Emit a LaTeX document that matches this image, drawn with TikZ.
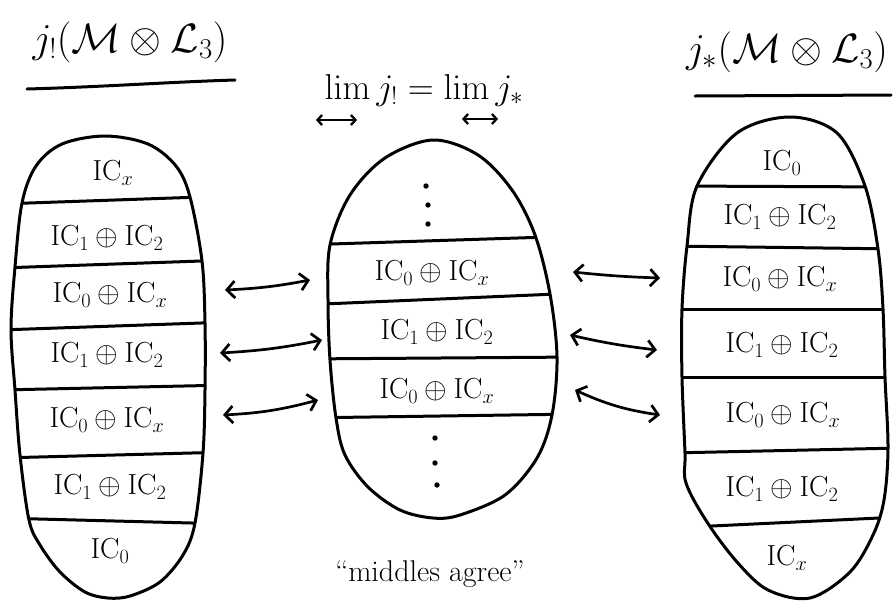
\RequirePackage{fix-cm}
\documentclass[tikz,border=0pt]{standalone}
\usepackage{amsmath}
\usetikzlibrary{arrows.meta}
\newcommand{\myIC}[1]{\mathrm{IC}_{#1}}
\begin{document}
\begin{tikzpicture}[x=1pt,y=-1pt,line width=3pt,line cap=round,line join=round,
  lbl/.style={font=\fontsize{29}{34}\selectfont,inner sep=0pt},
  ttl/.style={font=\fontsize{41}{47}\selectfont,inner sep=0pt},
  arr/.style={{Straight Barb[length=8pt,width=17pt]}-{Straight Barb[length=8pt,width=17pt]},line width=2.7pt},
  sarr/.style={{Straight Barb[length=4.5pt,width=10pt]}-{Straight Barb[length=4.5pt,width=10pt]},line width=2.3pt}]
\useasboundingbox (0,0) rectangle (894,603);

% titles
\node[ttl] (tl) at (130,42) {$j_!(\mathcal{M}\otimes\mathcal{L}_3)$};
\draw (27,89) .. controls (100,87) and (170,82) .. (235,80);
\node[ttl] (tr) at (787,52) {$j_*(\mathcal{M}\otimes\mathcal{L}_3)$};
\draw (695,96) -- (891,95);
\node[font=\fontsize{36}{42}\selectfont,inner sep=0pt,anchor=base] (lim) at (424,99)
  {$\lim j_! = \lim j_*$};
\coordinate (la) at (316,120); \coordinate (lb) at (357,120);
\coordinate (lc) at (462,119); \coordinate (ld) at (498,119);
\draw[sarr] (la) -- (lb);
\draw[sarr] (lc) -- (ld);
\node[font=\fontsize{30}{36}\selectfont,inner sep=0pt] (mid) at (430,574) {``middles agree''};

% left blob
\def\leftblob{plot[smooth cycle,tension=0.55] coordinates {(105,136) (148,144) (176,166) (190,197) (202,261) (205,323) (205,390) (203,453) (195,523) (183,555) (160,582) (130,596) (108,598) (85,592) (60,572) (40,545) (29,520) (20,455) (15,390) (11,329) (15,267) (22,203) (36,166) (62,144)}}
\begin{scope}
\clip \leftblob;
\draw (0,204) -- (230,196);
\draw (0,268) -- (230,260);
\draw (0,330) -- (230,322);
\draw (0,390) -- (230,385);
\draw (0,458) -- (230,452);
\draw (0,518) -- (230,524);
\end{scope}
\draw \leftblob;
\node[lbl] (l1) at (113,173) {$\myIC{x}$};
\node[lbl] (l2) at (107,238) {$\myIC{1}\oplus\myIC{2}$};
\node[lbl] (l3) at (110,295) {$\myIC{0}\oplus\myIC{x}$};
\node[lbl] (l4) at (107,355) {$\myIC{1}\oplus\myIC{2}$};
\node[lbl] (l5) at (107,420) {$\myIC{0}\oplus\myIC{x}$};
\node[lbl] (l6) at (110,487) {$\myIC{1}\oplus\myIC{2}$};
\node[lbl] (l7) at (110,551) {$\myIC{0}$};

% middle blob
\def\midblob{plot[smooth cycle,tension=0.55] coordinates {(433,140) (478,155) (512,190) (535,235) (550,294) (557,357) (552,415) (537,458) (505,495) (460,515) (433,518) (400,510) (368,487) (345,455) (336,418) (330,360) (328,300) (330,245) (350,195) (385,158)}}
\begin{scope}
\clip \midblob;
\draw (300,245) -- (580,236);
\draw (300,305) -- (580,293);
\draw (300,359) -- (580,357);
\draw (300,418) -- (580,414);
\end{scope}
\draw \midblob;
\foreach \p/\q in {426/186,428/205,428/224,435/438,435/463,437/485}
  \fill (\p,\q) circle (2.7pt);
\node[lbl] (m1) at (432,273) {$\myIC{0}\oplus\myIC{x}$};
\node[lbl] (m2) at (437,332) {$\myIC{1}\oplus\myIC{2}$};
\node[lbl] (m3) at (437,391) {$\myIC{0}\oplus\myIC{x}$};

% right blob
\def\rightblob{plot[smooth cycle,tension=0.55] coordinates {(790,117) (837,133) (865,186) (878,249) (883,309) (885,377) (888,448) (884,500) (873,535) (850,572) (810,598) (768,590) (737,562) (707,522) (686,483) (685,453) (682,377) (682,309) (687,246) (697,186) (737,133)}}
\begin{scope}
\clip \rightblob;
\draw (670,186) -- (900,187);
\draw (670,246) -- (900,249);
\draw (670,309) -- (900,309);
\draw (670,377) -- (900,377);
\draw (670,453) -- (900,448);
\draw (670,528) -- (900,517);
\end{scope}
\draw \rightblob;
\node[lbl] (r1) at (782,163) {$\myIC{0}$};
\node[lbl] (r2) at (780,217) {$\myIC{1}\oplus\myIC{2}$};
\node[lbl] (r3) at (780,279) {$\myIC{0}\oplus\myIC{x}$};
\node[lbl] (r4) at (782,345) {$\myIC{1}\oplus\myIC{2}$};
\node[lbl] (r5) at (783,415) {$\myIC{0}\oplus\myIC{x}$};
\node[lbl] (r6) at (782,489) {$\myIC{1}\oplus\myIC{2}$};
\node[lbl] (r7) at (787,558) {$\myIC{x}$};

% arrows
\coordinate (al1a) at (225,290); \coordinate (al1b) at (310,280);
\coordinate (al2a) at (220,353); \coordinate (al2b) at (322,340);
\coordinate (al3a) at (223,415); \coordinate (al3b) at (318,400);
\coordinate (ar1a) at (573,272); \coordinate (ar1b) at (660,278);
\coordinate (ar2a) at (570,335); \coordinate (ar2b) at (657,350);
\coordinate (ar3a) at (575,390); \coordinate (ar3b) at (660,415);
\draw[arr] (al1a) to[bend right=4] (al1b);
\draw[arr] (al2a) to[bend right=4] (al2b);
\draw[arr] (al3a) to[bend right=6] (al3b);
\draw[arr] (ar1a) to[bend right=2] (ar1b);
\draw[arr] (ar2a) to[bend right=3] (ar2b);
\draw[arr] (ar3a) to[bend right=8] (ar3b);
\end{tikzpicture}
\end{document}
